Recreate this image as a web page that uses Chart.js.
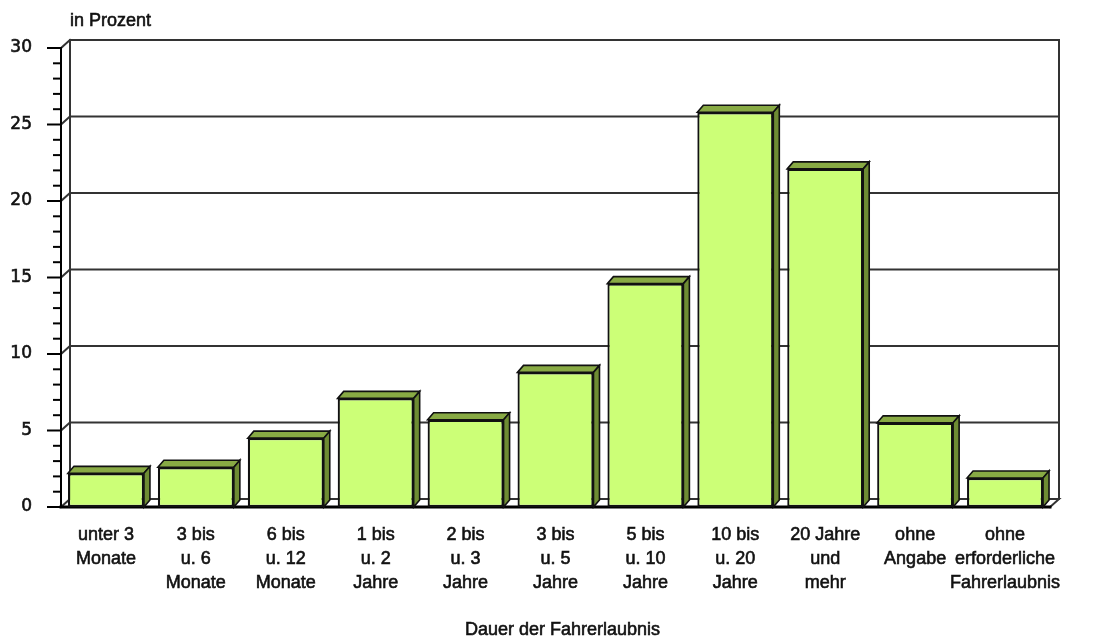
<!DOCTYPE html>
<html>
<head>
<meta charset="utf-8">
<script src="https://cdn.jsdelivr.net/npm/chart.js@4"></script>
<style>
html,body{margin:0;padding:0;background:#fff;}
#wrap{width:1098px;height:639px;position:relative;}
</style>
</head>
<body>
<div id="wrap"><canvas id="c"></canvas></div>
<script>
const categories = [
  ["unter 3","Monate"],
  ["3 bis","u. 6","Monate"],
  ["6 bis","u. 12","Monate"],
  ["1 bis","u. 2","Jahre"],
  ["2 bis","u. 3","Jahre"],
  ["3 bis","u. 5","Jahre"],
  ["5 bis","u. 10","Jahre"],
  ["10 bis","u. 20","Jahre"],
  ["20 Jahre","und","mehr"],
  ["ohne","Angabe"],
  ["ohne","erforderliche","Fahrerlaubnis"]
];
const values = [2.2, 2.6, 4.5, 7.1, 5.7, 8.8, 14.6, 25.8, 22.1, 5.5, 1.9];
const yMin = 0, yMax = 30, yStep = 5;
const yUnitLabel = "in Prozent";
const xTitle = "Dauer der Fahrerlaubnis";

const FONT = "'Liberation Sans', Arial, sans-serif";
const NUMFONT = "'DejaVu Sans', Verdana, sans-serif";
const WALL_DX = 9, WALL_DY = 8;
const BAR_DX = 6, BAR_DY = 7;

function boldText(ctx, text, x, y) {
  ctx.lineWidth = 0.6;
  ctx.strokeStyle = '#111';
  ctx.strokeText(text, x, y);
  ctx.fillText(text, x, y);
}

const wallPlugin = {
  id: 'wall3d',
  beforeDatasetsDraw(chart) {
    const ctx = chart.ctx, ys = chart.scales.y, a = chart.chartArea;
    const L = a.left, R = a.right, B = ys.getPixelForValue(yMin), T = ys.getPixelForValue(yMax);
    ctx.save();
    ctx.lineCap = 'square';
    ctx.strokeStyle = '#333';
    ctx.lineWidth = 2;
    for (let v = yMin + yStep; v <= yMax; v += yStep) {
      const y = ys.getPixelForValue(v);
      ctx.beginPath();
      ctx.moveTo(L + WALL_DX, y - WALL_DY);
      ctx.lineTo(R + WALL_DX, y - WALL_DY);
      ctx.stroke();
    }
    for (let v = yMin; v <= yMax; v += yStep) {
      const y = ys.getPixelForValue(v);
      ctx.beginPath();
      ctx.moveTo(L, y);
      ctx.lineTo(L + WALL_DX, y - WALL_DY);
      ctx.stroke();
    }
    ctx.beginPath();
    ctx.moveTo(L + WALL_DX, T - WALL_DY); ctx.lineTo(L + WALL_DX, B - WALL_DY);
    ctx.moveTo(R + WALL_DX, T - WALL_DY); ctx.lineTo(R + WALL_DX, B - WALL_DY);
    ctx.stroke();
    ctx.beginPath();
    ctx.moveTo(L + WALL_DX, B - WALL_DY); ctx.lineTo(R + WALL_DX, B - WALL_DY);
    ctx.lineTo(R, B);
    ctx.stroke();
    ctx.strokeStyle = '#000';
    ctx.lineWidth = 3;
    ctx.beginPath();
    ctx.moveTo(L, B); ctx.lineTo(R, B);
    ctx.stroke();
    ctx.lineWidth = 2;
    ctx.beginPath();
    ctx.moveTo(L, T); ctx.lineTo(L, B);
    ctx.stroke();
    ctx.lineCap = 'butt';
    for (let v = yMin; v <= yMax; v += 1) {
      const y = ys.getPixelForValue(v);
      const len = (v % yStep === 0) ? 14 : 8;
      ctx.beginPath();
      ctx.moveTo(L - len, y); ctx.lineTo(L, y);
      ctx.stroke();
    }
    ctx.fillStyle = '#111';
    ctx.font = "18px " + FONT;
    ctx.textAlign = 'left';
    ctx.textBaseline = 'middle';
    boldText(ctx, yUnitLabel, L + WALL_DX, 21);
    // x axis title, centred under the plot
    ctx.textAlign = 'center';
    boldText(ctx, xTitle, (L + R) / 2 + 7, 630);
    ctx.restore();
  },
  afterDatasetsDraw(chart) {
    const ctx = chart.ctx;
    const meta = chart.getDatasetMeta(0);
    ctx.save();
    ctx.lineWidth = 1.6;
    ctx.strokeStyle = '#111';
    ctx.lineJoin = 'miter';
    meta.data.forEach(bar => {
      const p = bar.getProps(['x','y','base','width'], true);
      const l = p.x - p.width / 2, r = p.x + p.width / 2, t = p.y, b = p.base;
      ctx.fillStyle = '#88AA44';
      ctx.beginPath();
      ctx.moveTo(l, t); ctx.lineTo(l + BAR_DX, t - BAR_DY);
      ctx.lineTo(r + BAR_DX, t - BAR_DY); ctx.lineTo(r, t);
      ctx.closePath(); ctx.fill(); ctx.stroke();
      ctx.fillStyle = '#6E8C33';
      ctx.beginPath();
      ctx.moveTo(r, t); ctx.lineTo(r + BAR_DX, t - BAR_DY);
      ctx.lineTo(r + BAR_DX, b - BAR_DY); ctx.lineTo(r, b);
      ctx.closePath(); ctx.fill(); ctx.stroke();
    });
    ctx.restore();
  }
};

new Chart(document.getElementById('c'), {
  type: 'bar',
  data: {
    labels: categories,
    datasets: [{
      data: values,
      backgroundColor: '#CCFF77',
      borderColor: '#111',
      borderWidth: 2.2,
      borderSkipped: false,
      categoryPercentage: 1,
      barPercentage: 0.845
    }]
  },
  options: {
    responsive: true,
    maintainAspectRatio: false,
    animation: false,
    layout: { padding: { left: 0, right: 48, top: 48, bottom: 0 } },
    plugins: { legend: { display: false }, tooltip: { enabled: false }, title: { display: false } },
    scales: {
      x: {
        grid: { display: false, drawTicks: false },
        border: { display: false },
        ticks: {
          color: '#111',
          textStrokeColor: '#111',
          textStrokeWidth: 0.6,
          font: { family: FONT, size: 18, lineHeight: 1.33 },
          padding: 16,
          maxRotation: 0,
          autoSkip: false
        },
        afterFit(scale) { scale.height = 132; }
      },
      y: {
        min: yMin, max: yMax,
        grid: { display: false, drawTicks: false },
        border: { display: false },
        ticks: {
          stepSize: yStep,
          color: '#111',
          textStrokeColor: '#111',
          textStrokeWidth: 0.6,
          font: { family: NUMFONT, size: 17 },
          padding: 29
        },
        afterFit(scale) { scale.width = 61; }
      }
    }
  },
  plugins: [wallPlugin]
});
</script>
</body>
</html>
